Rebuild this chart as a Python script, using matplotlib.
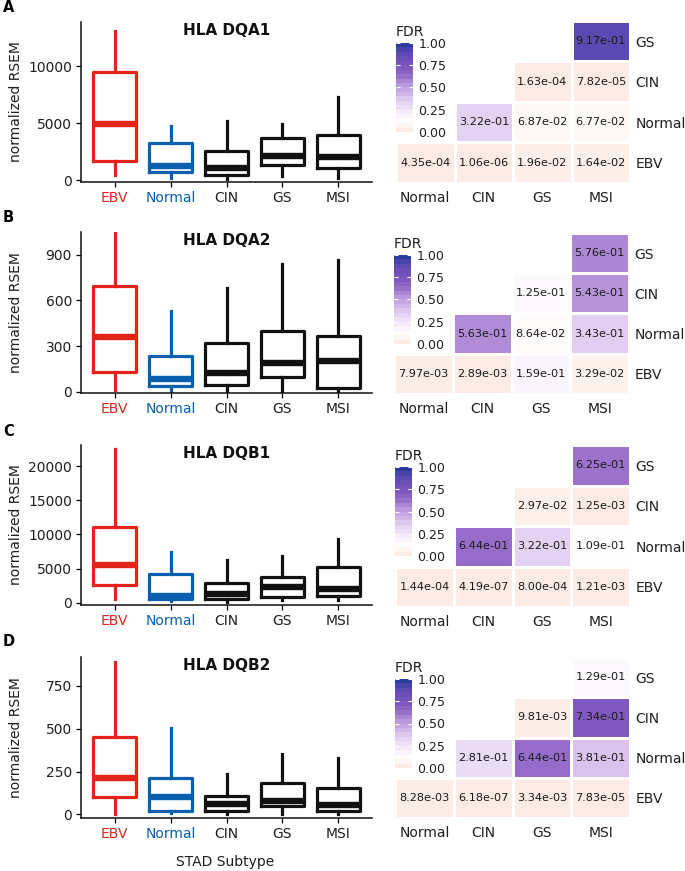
import numpy as np
import matplotlib
matplotlib.use("Agg")
import matplotlib.pyplot as plt
from matplotlib.colors import LinearSegmentedColormap, Normalize
from matplotlib.cm import ScalarMappable

# ---- data -------------------------------------------------------------
subtypes = ["EBV", "Normal", "CIN", "GS", "MSI"]
genes = ["HLA DQA1", "HLA DQA2", "HLA DQB1", "HLA DQB2"]
panel_letters = ["A", "B", "C", "D"]

# box stats per subtype: (whislo, q1, median, q3, whishi)
dqa1_box = [(440, 1670, 4910, 9470, 13070), (175, 700, 1230, 3250, 4740),
            (90, 440, 1050, 2540, 5170), (350, 1320, 2100, 3680, 4910),
            (175, 1050, 2020, 3950, 7280)]
dqa2_box = [(11, 132, 358, 694, 1042), (5, 38, 84, 237, 533),
            (3, 44, 123, 322, 684), (5, 99, 191, 401, 840),
            (3, 26, 202, 366, 867)]
dqb1_box = [(490, 2540, 5510, 11120, 22490), (240, 600, 1030, 4200, 7370),
            (150, 490, 1270, 2930, 6200), (390, 880, 2340, 3810, 6880),
            (390, 1030, 1950, 5180, 9370)]
dqb2_box = [(5, 99, 215, 453, 890), (8, 17, 103, 215, 506),
            (2, 20, 60, 110, 233), (2, 51, 81, 186, 355),
            (2, 17, 55, 153, 328)]
box_data = [dqa1_box, dqa2_box, dqb1_box, dqb2_box]

y_limits = [(-175, 13860), (-7, 1049), (-336, 23100), (-21, 919)]
y_ticks = [[0, 5000, 10000], [0, 300, 600, 900],
           [0, 5000, 10000, 15000, 20000], [0, 250, 500, 750]]

# FDR heatmaps: rows bottom->top, cols left->right
fdr_cols = ["Normal", "CIN", "GS", "MSI"]
fdr_rows = ["EBV", "Normal", "CIN", "GS"]
nan = np.nan
dqa1_fdr = [[4.35e-04, 1.06e-06, 1.96e-02, 1.64e-02],
            [nan, 3.22e-01, 6.87e-02, 6.77e-02],
            [nan, nan, 1.63e-04, 7.82e-05],
            [nan, nan, nan, 9.17e-01]]
dqa2_fdr = [[7.97e-03, 2.89e-03, 1.59e-01, 3.29e-02],
            [nan, 5.63e-01, 8.64e-02, 3.43e-01],
            [nan, nan, 1.25e-01, 5.43e-01],
            [nan, nan, nan, 5.76e-01]]
dqb1_fdr = [[1.44e-04, 4.19e-07, 8.00e-04, 1.21e-03],
            [nan, 6.44e-01, 3.22e-01, 1.09e-01],
            [nan, nan, 2.97e-02, 1.25e-03],
            [nan, nan, nan, 6.25e-01]]
dqb2_fdr = [[8.28e-03, 6.18e-07, 3.34e-03, 7.83e-05],
            [nan, 2.81e-01, 6.44e-01, 3.81e-01],
            [nan, nan, 9.81e-03, 7.34e-01],
            [nan, nan, nan, 1.29e-01]]
fdr_data = [dqa1_fdr, dqa2_fdr, dqb1_fdr, dqb2_fdr]

# ---- styles -----------------------------------------------------------
box_colors = ["#E3241B", "#0A5FAF", "#111111", "#111111", "#111111"]
text_col = "#1f1f1f"
fdr_cmap = LinearSegmentedColormap.from_list("fdr", [
    (0.0, "#FDECE5"), (0.1, "#FFFFFF"), (0.2, "#F6EDFA"), (0.35, "#E0CCF0"),
    (0.55, "#B592DA"), (0.65, "#9369C8"), (0.75, "#7C56BE"),
    (0.92, "#5949B0"), (1.0, "#2B3A9C")])

W, H = 685, 871
fig = plt.figure(figsize=(W / 100, H / 100), dpi=100)
plt.rcParams["font.family"] = "DejaVu Sans"


def px_axes(x0, y0, x1, y1):
    return fig.add_axes([x0 / W, 1 - y1 / H, (x1 - x0) / W, (y1 - y0) / H])


box_rects = [(81, 22, 372, 182), (81, 232, 372, 393),
             (81, 445, 372, 605), (81, 657, 372, 818)]
heat_rects = [(396, 21, 630, 183), (394, 233, 629, 394),
              (395, 445, 630, 607), (395, 657, 630, 818)]
letter_y = [8, 217, 431, 641]

for i in range(4):
    # boxplot panel
    ax = px_axes(*box_rects[i])
    for j, (lo, q1, med, q3, hi) in enumerate(box_data[i]):
        c = box_colors[j]
        st = [dict(whislo=lo, q1=q1, med=med, q3=q3, whishi=hi, fliers=[])]
        ax.bxp(st, positions=[j + 1], widths=0.77, showcaps=False,
               showfliers=False,
               boxprops=dict(color=c, linewidth=2.3),
               whiskerprops=dict(color=c, linewidth=2.3),
               medianprops=dict(color=c, linewidth=4.6, solid_capstyle="butt"))
    ax.set_xlim(0.4, 5.6)
    ax.set_ylim(*y_limits[i])
    ax.set_yticks(y_ticks[i])
    ax.set_xticks(range(1, 6))
    ax.set_xticklabels(subtypes)
    for s in ["top", "right"]:
        ax.spines[s].set_visible(False)
    for s in ["left", "bottom"]:
        ax.spines[s].set_linewidth(1.1)
        ax.spines[s].set_color("#111111")
    ax.tick_params(labelsize=10, length=3.5, width=0.9, pad=3,
                   labelcolor=text_col)
    for lbl, c in zip(ax.get_xticklabels(), box_colors):
        lbl.set_color(c if c != "#111111" else text_col)
    ax.set_ylabel("normalized RSEM", fontsize=10, color=text_col)
    ax.yaxis.set_label_coords(-0.199, 0.5)
    ax.text(0.5, 0.995, genes[i], transform=ax.transAxes, ha="center",
            va="top", fontsize=11, fontweight="bold", color="#111111")
    fig.text(3 / W, 1 - letter_y[i] / H, panel_letters[i], fontsize=10.5,
             fontweight="bold", va="center", ha="left")

    # FDR heatmap panel
    hx = px_axes(*heat_rects[i])
    vals = np.array(fdr_data[i], dtype=float)
    hx.pcolormesh(np.ma.masked_invalid(vals), cmap=fdr_cmap, vmin=0, vmax=1,
                  edgecolors="white", linewidth=0.8)
    for r in range(vals.shape[0]):
        for c in range(vals.shape[1]):
            if not np.isnan(vals[r, c]):
                hx.text(c + 0.5, r + 0.5, f"{vals[r, c]:.2e}", ha="center",
                        va="center", fontsize=8.1, color="#1a1a1a")
    hx.set_xlim(0, 4)
    hx.set_ylim(0, 4)
    hx.set_xticks(np.arange(4) + 0.5)
    hx.set_xticklabels(fdr_cols)
    hx.set_yticks(np.arange(4) + 0.5)
    hx.set_yticklabels(fdr_rows)
    hx.yaxis.tick_right()
    hx.tick_params(axis="x", length=0, labelsize=10, labelcolor=text_col,
                   pad=6)
    hx.tick_params(axis="y", length=0, labelsize=10, labelcolor=text_col,
                   pad=4)
    for s in hx.spines.values():
        s.set_visible(False)

    # colorbar legend
    x0, y0 = heat_rects[i][0], heat_rects[i][1]
    cax = px_axes(x0, y0 + 22, x0 + 17, y0 + 111)
    sm = ScalarMappable(norm=Normalize(0, 1), cmap=fdr_cmap.resampled(20))
    cb = fig.colorbar(sm, cax=cax, ticks=[0, 0.25, 0.5, 0.75, 1.0])
    cb.ax.set_yticklabels(["0.00", "0.25", "0.50", "0.75", "1.00"])
    cb.outline.set_visible(False)
    cb.ax.tick_params(which="both", left=True, right=True, direction="in",
                      color="white", length=3, width=0.8, labelsize=9,
                      labelcolor=text_col, pad=4)
    cb.ax.tick_params(labelleft=False, labelright=True)
    cax.set_title("FDR", fontsize=10, loc="left", pad=5, color=text_col)

fig.text(225 / W, 1 - 862 / H, "STAD Subtype", ha="center", va="center",
         fontsize=10, color=text_col)

fig.savefig("out.png", dpi=100)
